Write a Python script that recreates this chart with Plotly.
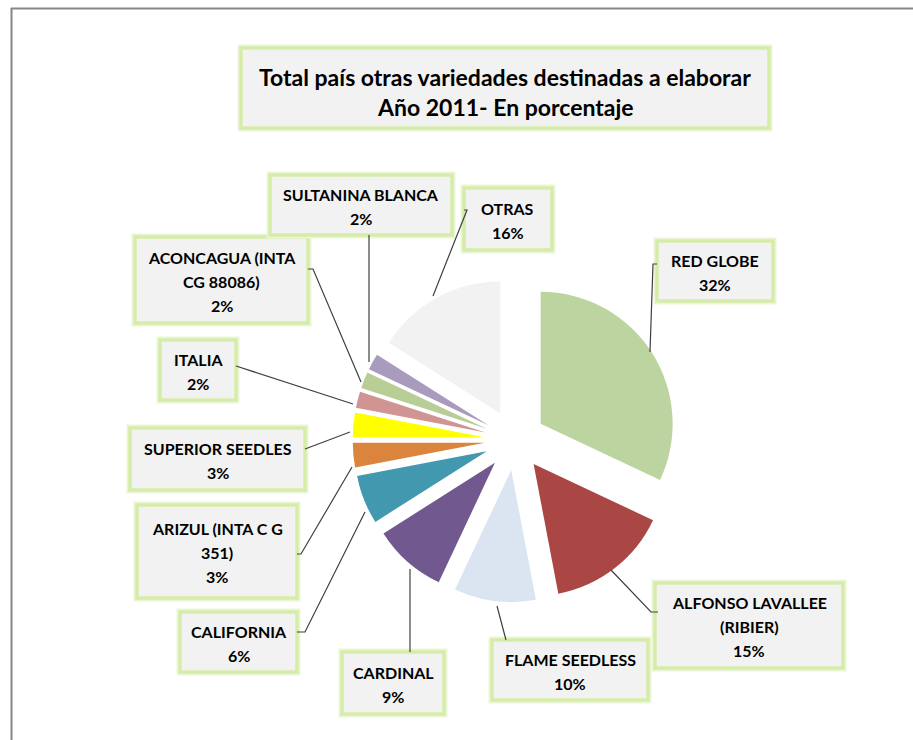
import plotly.graph_objects as go

# ---------------- data ----------------
categories = ["RED GLOBE", "ALFONSO LAVALLEE (RIBIER)", "FLAME SEEDLESS", "CARDINAL",
              "CALIFORNIA", "ARIZUL (INTA C G 351)", "SUPERIOR SEEDLES", "ITALIA",
              "ACONCAGUA (INTA CG 88086)", "SULTANINA BLANCA", "OTRAS"]
values = [32, 15, 10, 9, 6, 3, 3, 2, 2, 2, 16]
label_lines = [["RED GLOBE"], ["ALFONSO LAVALLEE", "(RIBIER)"], ["FLAME SEEDLESS"], ["CARDINAL"],
               ["CALIFORNIA"], ["ARIZUL (INTA C G", "351)"], ["SUPERIOR SEEDLES"], ["ITALIA"],
               ["ACONCAGUA (INTA", "CG 88086)"], ["SULTANINA BLANCA"], ["OTRAS"]]
colors = ["#bcd4a0", "#aa4643", "#dbe5f1", "#71588f", "#4198af", "#db843d",
          "#ffff00", "#d09592", "#b9cd96", "#a99bbd", "#f2f2f2"]
title_lines = ["Total país otras variedades destinadas a elaborar", "Año 2011- En porcentaje"]

# ---------------- layout helpers (pixels -> paper) ----------------
W, H = 913, 740
def px(x):
    return x / W
def py(y):
    return 1 - y / H

# pie geometry (px)
cx, cy, r, pull = 515, 440, 132, 0.23
half = r * (1 + pull)

# label boxes (x0, y0, x1, y1) in px, same order as categories
boxes = [(657, 241, 773, 301), (655, 583, 843, 668), (492, 640, 648, 700), (342, 652, 444, 714),
         (180, 612, 297, 672), (137, 505, 297, 598), (130, 428, 305, 490), (160, 340, 236, 400),
         (135, 237, 308, 323), (270, 175, 452, 235), (464, 188, 552, 250)]
# leader lines (polyline points in px)
leaders = [[(657, 264), (653, 264), (650, 352)],
           [(658, 612), (651, 612), (611, 570)],
           [(506, 640), (497, 606)],
           [(410, 652), (410, 569)],
           [(297, 632), (305, 632), (365, 512)],
           [(297, 554), (301, 554), (352, 467)],
           [(305, 449), (350, 432)],
           [(236, 366), (353, 404)],
           [(308, 269), (313, 269), (361, 382)],
           [(369, 235), (369, 362)],
           [(464, 210), (467, 210), (433, 296)]]

fig = go.Figure()
fig.add_trace(go.Pie(
    labels=categories, values=values, sort=False, direction="clockwise", rotation=0,
    pull=pull, marker=dict(colors=colors, line=dict(width=0)), textinfo="none",
    hoverinfo="label+percent", showlegend=False,
    domain=dict(x=[px(cx - half), px(cx + half)], y=[py(cy + half), py(cy - half)])))

shapes = []
annotations = []
FONT = "Lato, Calibri, Arial, sans-serif"

# chart outer border
shapes.append(dict(type="line", xref="paper", yref="paper", x0=px(11), x1=px(913), y0=py(8.5), y1=py(8.5),
                   line=dict(color="#868686", width=2)))
shapes.append(dict(type="line", xref="paper", yref="paper", x0=px(11.5), x1=px(11.5), y0=py(8), y1=py(740),
                   line=dict(color="#868686", width=2)))

def add_box(x0, y0, x1, y1):
    shapes.append(dict(type="rect", xref="paper", yref="paper", x0=px(x0), x1=px(x1), y0=py(y1), y1=py(y0),
                       line=dict(color="#ebf6d8", width=7), fillcolor="rgba(0,0,0,0)", layer="above"))
    shapes.append(dict(type="rect", xref="paper", yref="paper", x0=px(x0), x1=px(x1), y0=py(y1), y1=py(y0),
                       line=dict(color="#d6eca9", width=3.5), fillcolor="#f2f2f2", layer="above"))

# title box
add_box(241, 48, 769, 128)
for i, t in enumerate(title_lines):
    annotations.append(dict(text="<b>%s</b>" % t, xref="paper", yref="paper", x=px(505), y=py(77 + 30 * i),
                            xanchor="center", yanchor="middle", showarrow=False,
                            font=dict(family=FONT, size=23, color="#000000")))

for k, (cat, v) in enumerate(zip(categories, values)):
    x0, y0, x1, y1 = boxes[k]
    add_box(x0, y0, x1, y1)
    lines = label_lines[k] + ["%d%%" % v]
    n = len(lines)
    step = 24
    yc = (y0 + y1) / 2 + 1
    for j, ln in enumerate(lines):
        yy = yc + (j - (n - 1) / 2) * step
        annotations.append(dict(text="<b>%s</b>" % ln, xref="paper", yref="paper", x=px((x0 + x1) / 2), y=py(yy),
                                xanchor="center", yanchor="middle", showarrow=False,
                                font=dict(family=FONT, size=16, color="#000000")))
    pts = leaders[k]
    path = "M " + " L ".join("%f,%f" % (px(a), py(b)) for a, b in pts)
    shapes.append(dict(type="path", xref="paper", yref="paper", path=path,
                       line=dict(color="#404040", width=1.2), layer="above"))

fig.update_layout(width=W, height=H, autosize=False, margin=dict(l=0, r=0, t=0, b=0),
                  paper_bgcolor="#ffffff", plot_bgcolor="#ffffff", shapes=shapes, annotations=annotations)

fig.write_html("out.html", config={"displayModeBar": False},
               post_script="document.body.style.margin='0';document.body.style.overflow='hidden';")
